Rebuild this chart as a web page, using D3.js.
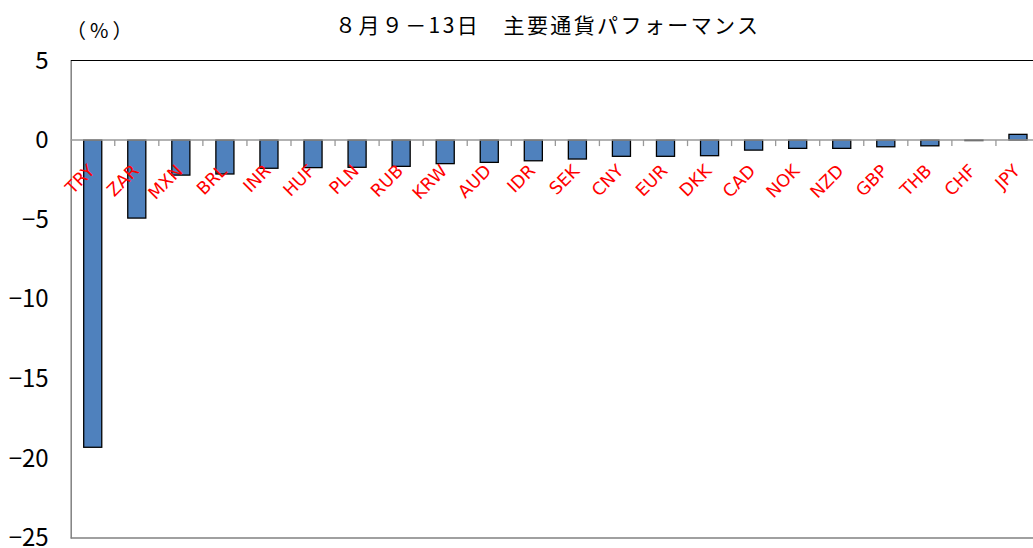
<!DOCTYPE html>
<html>
<head>
<meta charset="utf-8">
<script src="https://cdn.jsdelivr.net/npm/d3@7"></script>
<style>
body { margin: 0; background: #fff; }
</style>
</head>
<body>
<script>
var w = 1033;
var h = 548;

// data
var currencies = ["TRY", "ZAR", "MXN", "BRL", "INR", "HUF", "PLN", "RUB", "KRW", "AUD", "IDR",
    "SEK", "CNY", "EUR", "DKK", "CAD", "NOK", "NZD", "GBP", "THB", "CHF", "JPY"];
var changes = [-19.3, -4.9, -2.2, -2.13, -1.77, -1.73, -1.71, -1.65, -1.48, -1.4, -1.3,
    -1.19, -1.02, -1.02, -0.98, -0.63, -0.52, -0.52, -0.42, -0.36, -0.03, 0.36];
var yTicks = [5, 0, -5, -10, -15, -20, -25];
var title = "８月９－13日　主要通貨パフォーマンス";
var unit = "（%）";

var pLeft = 70.7, pRight = 1040, pTop = 60.5, pBottom = 538;

var svg = d3.select("body")
    .append("svg")
    .attr("width", w)
    .attr("height", h);

var x = d3.scaleBand()
    .domain(currencies)
    .range([pLeft, pRight])
    .paddingInner(0.59)
    .paddingOuter(0.295);

var y = d3.scaleLinear()
    .domain([-25, 5])
    .range([pBottom, pTop]);

// top border
svg.append("line")
    .attr("x1", pLeft).attr("x2", pRight)
    .attr("y1", pTop).attr("y2", pTop)
    .attr("stroke", "#000")
    .attr("stroke-width", 1.2);

// bottom axis line
svg.append("line")
    .attr("x1", pLeft).attr("x2", pRight)
    .attr("y1", y(-25)).attr("y2", y(-25))
    .attr("stroke", "#808080")
    .attr("stroke-width", 1.5);

var yAxis = d3.axisLeft(y)
    .tickValues(yTicks)
    .tickSize(0)
    .tickPadding(22)
    .tickFormat(function(d) { return d < 0 ? "\u2212" + Math.abs(d) : d; });

var ya = svg.append("g")
    .attr("transform", "translate(" + pLeft + ",0)")
    .call(yAxis);
ya.select(".domain").attr("stroke", "#808080").attr("stroke-width", 1.5);
ya.selectAll("text")
    .attr("font-family", "'Liberation Sans Narrow', 'Noto Sans CJK JP', sans-serif")
    .attr("font-size", 24)
    .attr("fill", "#000");

// bars
svg.selectAll(".bar")
    .data(changes)
    .enter()
    .append("rect")
    .attr("class", "bar")
    .attr("x", function(d, i) { return x(currencies[i]); })
    .attr("width", x.bandwidth())
    .attr("y", function(d) { return y(Math.max(0, d)); })
    .attr("height", function(d) { return Math.abs(y(d) - y(0)); })
    .attr("fill", "#4F81BD")
    .attr("stroke", "#000")
    .attr("stroke-width", 1.3);

// zero line with ticks between categories
svg.append("line")
    .attr("x1", pLeft).attr("x2", pRight)
    .attr("y1", y(0)).attr("y2", y(0))
    .attr("stroke", "#999")
    .attr("stroke-width", 1.5);

svg.selectAll(".tk")
    .data(currencies.slice(1))
    .enter()
    .append("line")
    .attr("class", "tk")
    .attr("x1", function(d) { return x(d) - x.step() * x.paddingInner() / 2; })
    .attr("x2", function(d) { return x(d) - x.step() * x.paddingInner() / 2; })
    .attr("y1", y(0)).attr("y2", y(0) + 6)
    .attr("stroke", "#999")
    .attr("stroke-width", 1.3);

// category labels
svg.selectAll(".lab")
    .data(currencies)
    .enter()
    .append("text")
    .attr("class", "lab")
    .attr("transform", function(d) {
        return "translate(" + (x(d) + x.bandwidth() / 2 + 3) + "," + 172 + ") rotate(-45)";
    })
    .attr("text-anchor", "end")
    .attr("font-family", "'DejaVu Sans', sans-serif")
    .attr("font-size", 17.5)
    .attr("fill", "#FF0000")
    .text(function(d) { return d; });

// title and unit
svg.append("text")
    .attr("x", 335).attr("y", 33)
    .attr("font-family", "'Noto Sans CJK JP', sans-serif")
    .attr("font-size", 21)
    .attr("letter-spacing", 2.4)
    .attr("fill", "#000")
    .text(title);

svg.append("text")
    .attr("x", 66).attr("y", 38)
    .attr("font-family", "'Noto Sans CJK JP', sans-serif")
    .attr("font-size", 20)
    .attr("letter-spacing", 4)
    .attr("fill", "#000")
    .text(unit);
</script>
</body>
</html>
